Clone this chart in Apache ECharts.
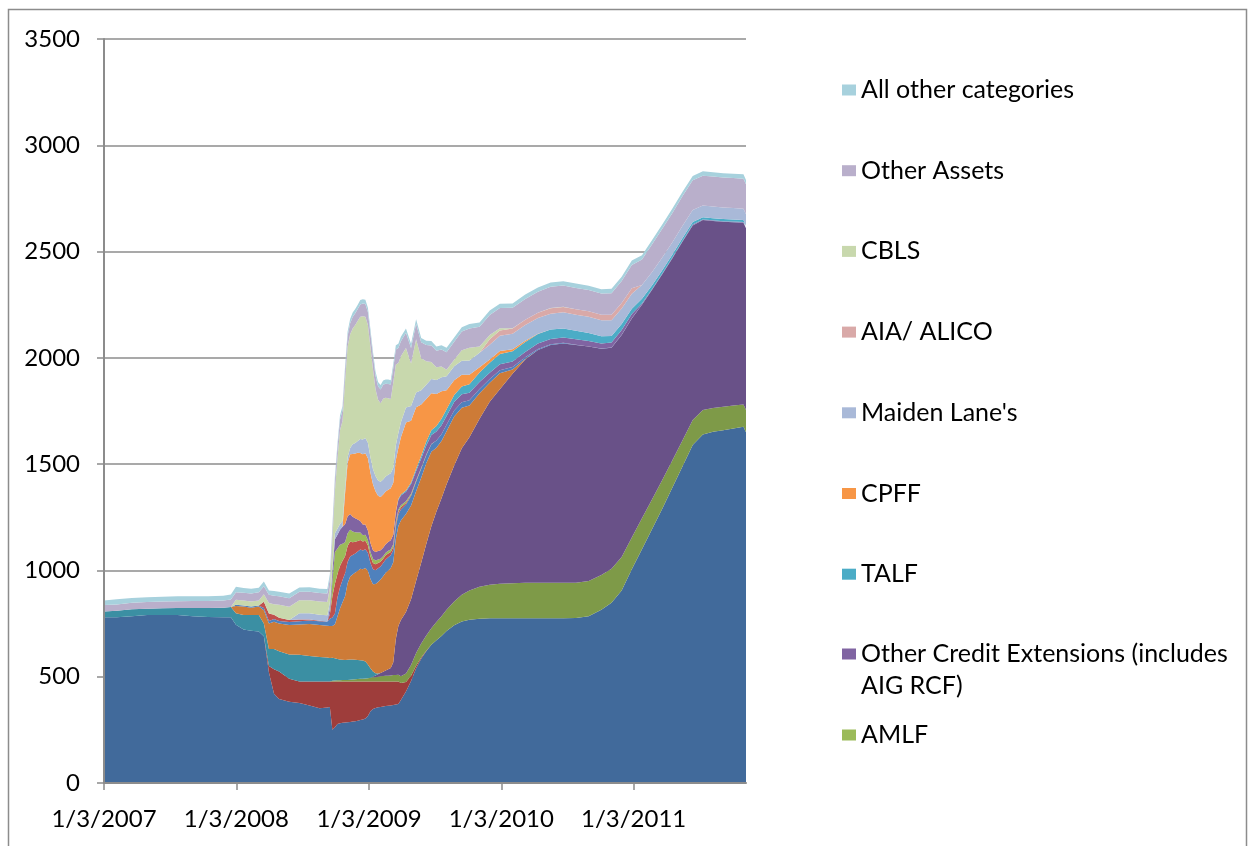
<!DOCTYPE html>
<html>
<head>
<meta charset="utf-8">
<title>Federal Reserve assets</title>
<script src="https://cdn.jsdelivr.net/npm/echarts@6.0.0/dist/echarts.min.js"></script>
<style>
  html, body { margin: 0; padding: 0; background: #fff; }
  #chart { width: 1251px; height: 846px; }
</style>
</head>
<body>
<div id="chart"></div>
<script>
// weekly H.4.1 snapshots (thinned where the stack is flat), billions of dollars
const dates = [
  '2007-01-03','2007-02-07','2007-03-21','2007-05-02','2007-06-13','2007-07-25','2007-09-05','2007-10-17','2007-11-28','2007-12-19',
  '2008-01-02','2008-01-23','2008-02-13','2008-03-05','2008-03-19','2008-04-02','2008-04-16','2008-04-30','2008-05-28','2008-06-25',
  '2008-07-23','2008-08-20','2008-09-10','2008-09-17','2008-09-24','2008-10-01','2008-10-08','2008-10-15','2008-10-22','2008-10-29',
  '2008-11-05','2008-11-12','2008-11-19','2008-11-26','2008-12-03','2008-12-10','2008-12-17','2008-12-24','2008-12-31','2009-01-07',
  '2009-01-14','2009-01-21','2009-01-28','2009-02-04','2009-02-11','2009-02-18','2009-02-25','2009-03-04','2009-03-11','2009-03-18',
  '2009-03-25','2009-04-01','2009-04-15','2009-04-29','2009-05-13','2009-05-27','2009-06-10','2009-06-24','2009-07-08','2009-07-22',
  '2009-08-05','2009-08-26','2009-09-16','2009-10-07','2009-11-04','2009-12-02','2009-12-30','2010-02-03','2010-03-10','2010-04-14',
  '2010-05-19','2010-06-23','2010-07-28','2010-09-01','2010-10-06','2010-11-03','2010-12-01','2010-12-29','2011-01-26','2011-02-23',
  '2011-03-23','2011-04-20','2011-05-18','2011-06-15','2011-07-13','2011-08-10','2011-09-07','2011-10-05','2011-11-02','2011-11-09'
];

const treasuries = [
  780,780,785,790,790,790,785,781,780,780,
  745,722,716,713,690,520,420,395,382,376,
  365,352,355,357,250,262,278,281,283,285,
  286,287,289,291,293,296,299,303,315,338,
  348,353,356,358,360,362,363,365,367,369,
  372,390,430,480,540,585,620,650,672,692,
  715,742,760,768,773,775,775,775,775,775,
  775,775,776,785,815,848,905,1005,1100,1195,
  1290,1390,1490,1590,1640,1652,1660,1668,1676,1650
];
const tslf = [
  0,0,0,0,0,0,0,0,0,0,
  0,0,0,0,0,30,115,130,108,102,
  113,126,123,121,228,216,200,197,195,193,
  192,191,189,187,185,182,179,175,163,140,
  130,125,122,120,118,116,115,113,111,109,
  106,80,45,25,12,5,2,0,0,0,
  0,0,0,0,0,0,0,0,0,0,
  0,0,0,0,0,0,0,0,0,0,
  0,0,0,0,0,0,0,0,0,0
];
const agencyDebt = [
  0,0,0,0,0,0,0,0,0,0,
  0,0,0,0,0,0,0,0,0,0,
  0,0,0,0,3,4,5,5,6,6,
  7,8,9,10,11,12,13,14,15,17,
  19,20,22,24,25,26,27,28,30,30,
  31,32,40,50,60,66,72,78,85,92,
  100,112,125,138,150,158,162,165,167,167,
  167,167,166,165,163,160,158,150,145,140,
  135,128,122,118,115,112,110,108,105,105
];
const mbs = [
  0,0,0,0,0,0,0,0,0,0,
  0,0,0,0,0,0,0,0,0,0,
  0,0,0,0,0,0,0,0,0,0,
  0,0,0,0,0,0,0,0,0,0,
  3,8,12,15,20,25,30,35,60,170,
  230,265,290,310,340,380,430,480,520,555,
  590,640,690,720,790,860,915,985,1050,1095,
  1118,1126,1118,1103,1065,1040,1045,1030,1005,985,
  968,950,935,915,893,880,870,862,855,855
];
const repos = [
  27,30,32,30,32,33,38,42,45,48,
  53,68,74,77,60,80,95,95,115,125,
  120,115,112,110,108,105,100,98,96,95,
  95,95,94,92,90,88,85,80,65,45,
  25,10,3,0,0,0,0,0,0,0,
  0,0,0,0,0,0,0,0,0,0,
  0,0,0,0,0,0,0,0,0,0,
  0,0,0,0,0,0,0,0,0,0,
  0,0,0,0,0,0,0,0,0,0
];
const taf = [
  0,0,0,0,0,0,0,0,0,0,
  35,40,35,40,63,120,129,130,138,143,
  150,150,150,150,150,160,200,240,270,300,
  360,390,400,410,420,430,430,440,440,420,
  410,420,430,440,450,460,465,470,470,470,
  470,468,460,440,420,400,380,350,300,270,
  250,230,190,150,120,90,75,20,3,0,
  0,0,0,0,0,0,0,0,0,0,
  0,0,0,0,0,0,0,0,0,0
];
const primaryCredit = [
  0,0,0,0,0,0,0,0,0,0,
  5,5,5,5,10,12,12,12,14,15,
  17,18,20,35,40,50,90,100,105,108,
  100,95,92,90,90,90,88,88,85,75,
  70,65,65,62,62,62,62,60,58,56,
  55,52,45,45,45,42,38,36,34,32,
  30,28,26,24,20,17,15,12,8,5,
  4,3,2,1,1,1,1,1,1,1,
  1,1,1,1,1,1,1,1,1,1
];
const pdcf = [
  0,0,0,0,0,0,0,0,0,0,
  0,0,0,0,30,35,20,15,10,8,
  4,2,0,20,100,140,110,100,90,80,
  75,70,60,55,50,45,42,40,35,30,
  30,28,25,22,20,20,18,16,15,13,
  12,10,7,5,3,2,1,0,0,0,
  0,0,0,0,0,0,0,0,0,0,
  0,0,0,0,0,0,0,0,0,0,
  0,0,0,0,0,0,0,0,0,0
];
const amlf = [
  0,0,0,0,0,0,0,0,0,0,
  0,0,0,0,0,0,0,0,0,0,
  0,0,0,0,70,150,120,100,80,65,
  60,55,50,45,40,35,30,28,25,22,
  20,18,16,14,12,12,12,12,12,12,
  10,10,8,6,4,3,2,1,0,0,
  0,0,0,0,0,0,0,0,0,0,
  0,0,0,0,0,0,0,0,0,0,
  0,0,0,0,0,0,0,0,0,0
];
const otherCredit = [
  0,0,0,0,0,0,0,0,0,0,
  0,0,0,0,0,0,0,0,0,0,
  0,0,0,28,45,60,65,70,80,85,
  80,75,70,65,60,55,50,48,45,42,
  40,40,40,40,40,40,42,43,45,45,
  45,45,45,45,44,43,43,42,42,42,
  42,40,38,36,34,30,28,26,25,25,
  25,25,25,25,24,23,22,20,5,3,
  3,3,3,3,2,2,2,2,2,2
];
const talf = [
  0,0,0,0,0,0,0,0,0,0,
  0,0,0,0,0,0,0,0,0,0,
  0,0,0,0,0,0,0,0,0,0,
  0,0,0,0,0,0,0,0,0,0,
  0,0,0,0,0,0,0,0,0,3,
  5,5,6,8,10,14,18,22,27,30,
  31,33,36,40,44,47,48,48,47,45,
  44,42,40,38,34,31,28,25,22,18,
  15,14,13,12,11,10,10,10,9,9
];
const cpff = [
  0,0,0,0,0,0,0,0,0,0,
  0,0,0,0,0,0,0,0,0,0,
  0,0,0,0,0,0,0,0,0,145,
  250,280,295,305,315,320,330,335,340,330,
  310,285,260,250,250,248,245,245,245,242,
  240,270,320,290,290,240,200,175,150,130,
  90,70,55,45,25,15,14,10,6,1,
  0,0,0,0,0,0,0,0,0,0,
  0,0,0,0,0,0,0,0,0,0
];
const maidenLane = [
  0,0,0,0,0,0,0,0,0,0,
  0,0,0,0,0,0,0,0,0,29,
  29,29,29,28,28,28,28,28,28,28,
  28,30,45,50,55,65,70,72,73,73,
  72,72,72,72,71,71,71,70,70,70,
  70,70,70,69,69,68,68,67,66,66,
  66,66,66,67,68,70,72,72,73,74,
  75,76,76,76,75,74,73,70,65,62,
  60,58,57,56,55,55,54,54,53,53
];
const aiaAlico = [
  0,0,0,0,0,0,0,0,0,0,
  0,0,0,0,0,0,0,0,0,0,
  0,0,0,0,0,0,0,0,0,0,
  0,0,0,0,0,0,0,0,0,0,
  0,0,0,0,0,0,0,0,0,0,
  0,0,0,0,0,0,0,0,0,0,
  0,0,0,0,0,25,25,25,25,25,
  25,25,26,26,26,26,26,26,0,0,
  0,0,0,0,0,0,0,0,0,0
];
const cbls = [
  0,0,0,0,0,0,0,0,0,0,
  24,24,24,24,35,50,50,62,62,62,
  62,62,62,70,120,200,330,440,470,500,
  520,535,545,555,565,575,580,570,553,520,
  470,410,380,370,380,370,360,350,400,380,
  330,310,280,200,250,150,110,80,60,50,
  30,30,50,60,30,20,10,1,0,0,
  1,1,0,0,0,0,0,0,0,0,
  0,0,0,0,0,0,0,0,0,0
];
const otherAssets = [
  30,30,31,31,32,32,33,33,34,35,
  35,36,37,38,38,39,40,40,40,40,
  40,40,40,42,45,48,50,50,50,50,
  50,52,54,55,56,58,60,60,62,62,
  62,62,63,64,65,66,67,68,69,70,
  70,71,72,73,74,75,76,77,78,80,
  82,85,88,90,92,95,96,97,98,99,
  100,100,100,100,100,101,103,110,120,130,
  135,138,140,140,140,141,141,141,142,142
];
const allOther = [
  22,24,22,23,22,24,22,23,22,24,
  26,22,23,21,22,20,22,21,22,20,
  21,20,22,20,21,20,20,20,20,20,
  20,20,21,20,20,21,20,20,20,20,
  20,20,20,21,20,20,21,20,20,20,
  20,21,20,20,21,20,20,21,20,20,
  21,20,20,21,20,21,20,20,21,20,
  21,20,21,20,20,21,20,21,20,21,
  20,21,20,21,21,20,21,20,21,20
];

const tickDates = ['2007-01-03', '2008-01-03', '2009-01-03', '2010-01-03', '2011-01-03'];
const tickLabels = ['1/3/2007', '1/3/2008', '1/3/2009', '1/3/2010', '1/3/2011'];

const legendNames = ['All other categories', 'Other Assets', 'CBLS', 'AIA/ ALICO', "Maiden Lane's", 'CPFF', 'TALF'];

function stamp(s) {
  const p = s.split('-');
  return Date.UTC(+p[0], +p[1] - 1, +p[2]);
}
const DAY = 86400000;
const times = dates.map(stamp);
// tick positions in days since the first date, for the label axis
const tickDays = tickDates.map((s) => (stamp(s) - times[0]) / DAY);
const lastDay = (times[times.length - 1] - times[0]) / DAY;

// bottom of the stack first
const layers = [
  { name: 'Treasuries', data: treasuries, color: '#416a9b' },
  { name: 'TSLF', data: tslf, color: '#9e3d3b' },
  { name: 'Agency Debt', data: agencyDebt, color: '#7e9a48' },
  { name: 'MBS', data: mbs, color: '#695188' },
  { name: 'Repurchase Agreements', data: repos, color: '#3b8fa3' },
  { name: 'TAF', data: taf, color: '#cd7b37' },
  { name: 'Primary Credit', data: primaryCredit, color: '#4f81bd' },
  { name: 'PDCF', data: pdcf, color: '#c0504d' },
  { name: 'AMLF', data: amlf, color: '#9bbb59' },
  { name: 'Other Credit Extensions (includes AIG RCF)', data: otherCredit, color: '#8064a2' },
  { name: 'TALF', data: talf, color: '#4bacc6' },
  { name: 'CPFF', data: cpff, color: '#f79646' },
  { name: "Maiden Lane's", data: maidenLane, color: '#a9b9d8' },
  { name: 'AIA/ ALICO', data: aiaAlico, color: '#d9a9a8' },
  { name: 'CBLS', data: cbls, color: '#c8d8ad' },
  { name: 'Other Assets', data: otherAssets, color: '#b9afcb' },
  { name: 'All other categories', data: allOther, color: '#a7d1dd' }
];

const font = 'Lato';
const gray = '#8c8c8c';

const chart = echarts.init(document.getElementById('chart'), null, { renderer: 'canvas' });
chart.setOption({
  animation: false,
  textStyle: { fontFamily: font },
  grid: { left: 104, right: 505, top: 39, bottom: 63 },
  legend: [
    {
      data: legendNames, orient: 'vertical', left: 842, top: 74, padding: 0,
      itemWidth: 14, itemHeight: 11, itemGap: 48.7, icon: 'rect', selectedMode: false,
      textStyle: { fontFamily: font, fontSize: 25, color: '#000', lineHeight: 32 }
    },
    {
      data: ['Other Credit Extensions (includes AIG RCF)'], orient: 'vertical', left: 842, top: 638, padding: 0,
      itemWidth: 14, itemHeight: 11, icon: 'rect', selectedMode: false,
      formatter: () => 'Other Credit Extensions (includes',
      textStyle: { fontFamily: font, fontSize: 25, color: '#000', lineHeight: 32 }
    },
    {
      data: ['AMLF'], orient: 'vertical', left: 842, top: 719, padding: 0,
      itemWidth: 14, itemHeight: 11, icon: 'rect', selectedMode: false,
      textStyle: { fontFamily: font, fontSize: 25, color: '#000', lineHeight: 32 }
    }
  ],
  graphic: [
    {
      type: 'rect', silent: true,
      shape: { x: 8.5, y: 9.5, width: 1238, height: 900 },
      style: { fill: 'none', stroke: gray, lineWidth: 1.5 }
    },
    {
      type: 'text', silent: true, left: 861, top: 670,
      style: { text: 'AIG RCF)', fontFamily: font, fontSize: 25, fill: '#000', lineHeight: 32 }
    }
  ],
  xAxis: [
    {
      // time axis carries the areas
      type: 'time', min: times[0], max: times[times.length - 1], z: 3,
      splitLine: { show: false },
      axisLine: { lineStyle: { color: gray, width: 2 } },
      axisTick: { show: false },
      axisLabel: { show: false }
    },
    {
      // day-count axis only draws the yearly ticks and labels
      type: 'value', min: 0, max: lastDay, position: 'bottom', z: 3,
      splitLine: { show: false },
      axisLine: { show: false },
      axisTick: { show: true, customValues: tickDays, length: 7, lineStyle: { color: gray, width: 1.5 } },
      axisLabel: {
        customValues: tickDays, margin: 24, color: '#000', fontSize: 24, fontFamily: font,
        formatter: (v) => {
          let best = 0;
          tickDays.forEach((d, i) => { if (Math.abs(d - v) < Math.abs(tickDays[best] - v)) best = i; });
          return tickLabels[best];
        }
      }
    }
  ],
  yAxis: {
    type: 'value', min: 0, max: 3500, interval: 500, z: 3,
    axisLine: { show: true, lineStyle: { color: gray, width: 2 } },
    axisTick: { show: true, length: 7, lineStyle: { color: gray, width: 1.5 } },
    splitLine: { lineStyle: { color: gray, width: 1.5 } },
    axisLabel: { margin: 24, color: '#000', fontSize: 24, fontFamily: font, formatter: (v) => String(v) }
  },
  series: layers.map((l) => ({
    name: l.name,
    type: 'line',
    xAxisIndex: 0,
    stack: 'total',
    data: times.map((t, i) => [t, l.data[i]]),
    color: l.color,
    symbol: 'none',
    showSymbol: false,
    silent: true,
    lineStyle: { width: 0 },
    areaStyle: { color: l.color, opacity: 1 },
    emphasis: { disabled: true }
  }))
});
</script>
</body>
</html>
